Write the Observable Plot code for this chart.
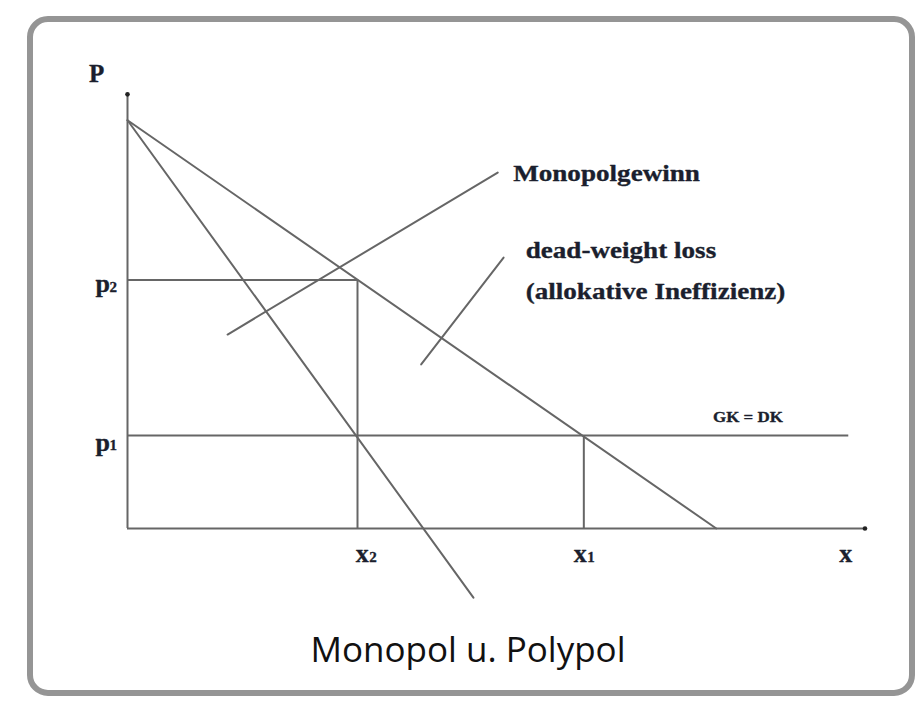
<!DOCTYPE html>
<html><head><meta charset="utf-8">
<script src="https://cdn.jsdelivr.net/npm/d3@7"></script>
<script src="https://cdn.jsdelivr.net/npm/@observablehq/plot@0.6"></script>
<style>
body{margin:0;background:#fff;width:922px;height:714px;overflow:hidden;position:relative}
#frame{position:absolute;left:27px;top:16px;width:888px;height:680px;border:6px solid #959595;border-radius:21px;box-sizing:border-box}
#chart{position:absolute;left:0;top:0}
#cap{position:absolute;left:0;top:631px;width:936px;text-align:center;font-family:"Open Sans",sans-serif;font-size:35px;line-height:36px;color:#111}
</style></head><body>
<div id="frame"></div>
<div id="chart"></div>
<div id="cap">Monopol u. Polypol</div>
<script>
// ---- data (economic units) ----
const demand = [{x: 0, p: 94.5}, {x: 80, p: 0}];          // Preis-Absatz-Funktion
const marginalRevenue = [{x: 0, p: 94.5}, {x: 47, p: -16}]; // Grenzerlös
const quantities = [31.25, 62];   // x2 (Monopol), x1 (Polypol)
const prices = [57.5, 21.5];      // p2 (Monopol), p1 (Polypol = GK = DK)
const costLineEnd = 98;
const axisMax = 100;
const priceLabels = ["p", "p"];
const priceSubs = ["2", "1"];
const quantityLabels = ["x", "x", "x"];
const quantitySubs = ["2", "1", ""];
const annotationTexts = ["Monopolgewinn", "dead-weight loss", "(allokative Ineffizienz)", "GK = DK"];
const pointerMono = [{x: 13.6, p: 44.9}, {x: 50.3, p: 82.4}];
const pointerDwl = [{x: 39.9, p: 38.0}, {x: 51.1, p: 62.7}];

const [x2, x1] = quantities;
const [p2, p1] = prices;

const stroke = "#666";
const sw = 2;
const serif = "Liberation Serif, Times New Roman, serif";
const ink = "#1b1f2e";

// label anchor tables (built from the arrays above)
const priceTbl = priceLabels.map((t, i) => ({t, s: priceSubs[i], x: -4.35, p: [56.6, 19.9][i]}));
const qtyTbl = quantityLabels.map((t, i) => ({t, s: quantitySubs[i], x: [31.9, 61.5, 97.6][i], p: -5.8}));
const annTbl = [
  {t: annotationTexts[0], x: 52.4, p: 82.2},
  {t: annotationTexts[1], x: 54.1, p: 64.4},
  {t: annotationTexts[2], x: 54.1, p: 55.0},
];
const gkTbl = [{t: annotationTexts[3], x: 84.3, p: 25.8}];

const textStyle = {fontFamily: serif, fontWeight: "bold", fill: ink, stroke: ink, strokeWidth: 0.35};

const chart = Plot.plot({
  width: 922,
  height: 620,
  margin: 0,
  style: {background: "transparent", overflow: "visible"},
  x: {domain: [0, axisMax], range: [127, 863], axis: null},
  y: {domain: [0, axisMax], range: [528, 96], axis: null},
  marks: [
    // axes
    Plot.ruleY([0], {x1: 0, x2: axisMax, stroke, strokeWidth: sw}),
    Plot.ruleX([0], {y1: 0, y2: axisMax + 0.5, stroke, strokeWidth: sw}),
    Plot.dot([{x: axisMax + 0.2, p: 0}, {x: 0, p: axisMax + 0.5}], {x: "x", y: "p", r: 2.3, fill: "#222", stroke: null}),
    // curves
    Plot.line(demand, {x: "x", y: "p", stroke, strokeWidth: sw}),
    Plot.line(marginalRevenue, {x: "x", y: "p", stroke, strokeWidth: sw}),
    // helper lines
    Plot.ruleY([p2], {x1: 0, x2: x2, stroke, strokeWidth: sw}),
    Plot.ruleX([x2], {y1: 0, y2: p2, stroke, strokeWidth: sw}),
    Plot.ruleY([p1], {x1: 0, x2: costLineEnd, stroke, strokeWidth: sw}),
    Plot.ruleX([x1], {y1: 0, y2: p1, stroke, strokeWidth: sw}),
    // pointers
    Plot.line(pointerMono, {x: "x", y: "p", stroke, strokeWidth: sw}),
    Plot.line(pointerDwl, {x: "x", y: "p", stroke, strokeWidth: sw}),
    // axis titles
    Plot.text(["P"], {x: -4.2, y: 105.3, text: d => d, fontSize: 25, ...textStyle}),
    // price labels
    Plot.text(priceTbl, {x: "x", y: "p", text: "t", textAnchor: "start", fontSize: 26, ...textStyle}),
    Plot.text(priceTbl, {x: "x", y: "p", text: "s", textAnchor: "start", dx: 14, dy: 3, fontSize: 15, ...textStyle}),
    // quantity labels
    Plot.text(qtyTbl, {x: "x", y: "p", text: "t", textAnchor: "middle", fontSize: 26, ...textStyle}),
    Plot.text(qtyTbl, {x: "x", y: "p", text: "s", textAnchor: "start", dx: 7, dy: 4, fontSize: 15, ...textStyle}),
    // annotations
    Plot.text(annTbl, {x: "x", y: "p", text: "t", textAnchor: "start", fontSize: 24, ...textStyle}),
    Plot.text(gkTbl, {x: "x", y: "p", text: "t", textAnchor: "middle", fontSize: 15, ...textStyle}),
  ]
});
document.getElementById("chart").appendChild(chart);
// the reference lettering is horizontally stretched: widen annotation labels about their anchor
d3.select(chart).selectAll("text").each(function () {
  if (annotationTexts.includes(this.textContent)) {
    const tr = this.getAttribute("transform") || "";
    this.setAttribute("transform", tr + " scale(1.13,1)");
  }
});
</script>
</body></html>
